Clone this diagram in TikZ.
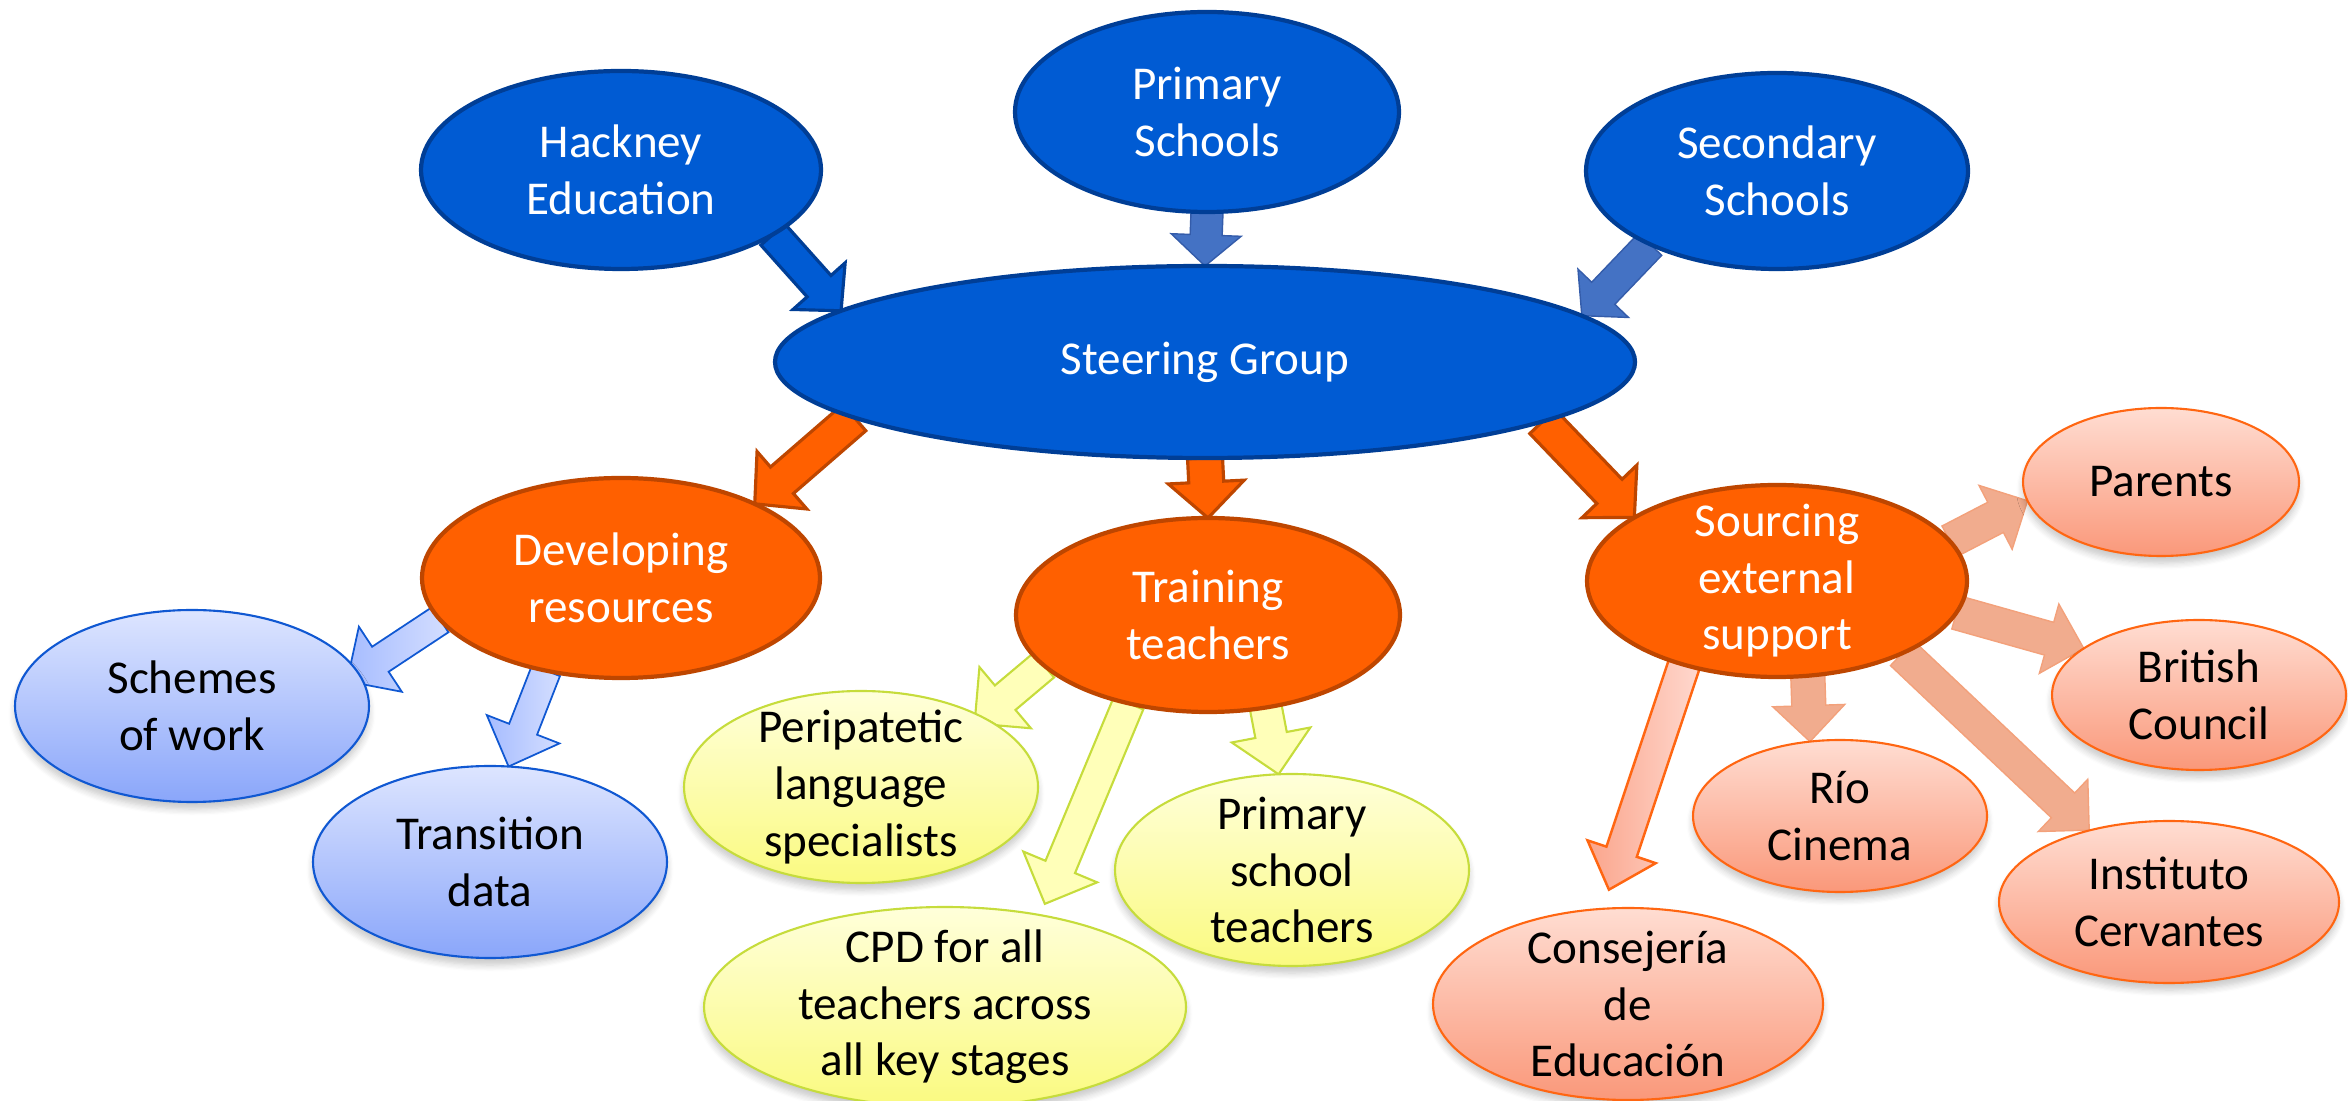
\documentclass[tikz,border=0pt]{standalone}
\usepackage{fontspec}
\setmainfont{Carlito}
\usetikzlibrary{
    shapes.geometric,
    shadows.blur
}
\definecolor{steerBlue}{RGB}{0, 91, 211}
\definecolor{steerBlueLine}{RGB}{0, 62, 150}
\definecolor{feedBlue}{RGB}{68, 114, 196}
\definecolor{feedBlueLine}{RGB}{52, 92, 170}
\definecolor{taskOrange}{RGB}{255, 96, 0}
\definecolor{taskOrangeLine}{RGB}{190, 70, 0}
\definecolor{resTop}{RGB}{221, 229, 255}
\definecolor{resBottom}{RGB}{138, 166, 250}
\definecolor{resLine}{RGB}{16, 88, 210}
\definecolor{resArrowA}{RGB}{166, 188, 255}
\definecolor{resArrowB}{RGB}{212, 222, 255}
\definecolor{teachTop}{RGB}{255, 255, 218}
\definecolor{teachBottom}{RGB}{250, 250, 128}
\definecolor{teachLine}{RGB}{198, 220, 60}
\definecolor{teachArrow}{RGB}{255, 255, 185}
\definecolor{helpTop}{RGB}{255, 221, 210}
\definecolor{helpBottom}{RGB}{250, 152, 122}
\definecolor{helpLine}{RGB}{255, 102, 18}
\definecolor{helpArrow}{RGB}{241, 172, 142}
\definecolor{helpArrowA}{RGB}{250, 165, 140}
\definecolor{helpArrowB}{RGB}{255, 216, 206}

\pgfdeclarelayer{background}
\pgfsetlayers{background,main}

\tikzset{
    % block arrow sizes
    fat shaft/.store in=\fashaft,
    fat head/.store in=\fahead,
    fat tip/.store in=\fatip,
    fat gap/.store in=\fagap,
    fat shaft=0.32cm, fat head=0.7cm, fat tip=0.33cm, fat gap=0pt,
    fat arrow/.style={fat gap=0pt},
    dims/.style 2 args={minimum width=#1, minimum height=#2},
    bubble/.style={ellipse, inner sep=-8pt, outer sep=0pt, align=center,
        font=\fontsize{13.4}{16.1}\selectfont},
    soft shadow/.style={blur shadow={shadow xshift=0pt, shadow yshift=-2pt,
        shadow blur steps=6, shadow opacity=22}},
    topbubble/.style={bubble, fill=steerBlue, draw=steerBlueLine, line width=1.2pt, text=white},
    taskbubble/.style={bubble, fill=taskOrange, draw=taskOrangeLine, line width=1.2pt, text=white},
    resbubble/.style={bubble, soft shadow, top color=resTop, bottom color=resBottom,
        draw=resLine, line width=0.6pt},
    teachbubble/.style={bubble, soft shadow, top color=teachTop, bottom color=teachBottom,
        draw=teachLine, line width=0.6pt},
    helpbubble/.style={bubble, soft shadow, top color=helpTop, bottom color=helpBottom,
        draw=helpLine, line width=0.6pt},
    toparrow/.style={fill=steerBlue, draw=steerBlueLine, line width=0.9pt,
        fat shaft=0.32cm, fat head=0.70cm, fat tip=0.33cm},
    feedarrow/.style={fill=feedBlue, draw=feedBlueLine, line width=0.4pt,
        fat shaft=0.32cm, fat head=0.70cm, fat tip=0.31cm},
    taskarrow/.style={fill=taskOrange, draw=taskOrangeLine, line width=0.9pt,
        fat shaft=0.35cm, fat head=0.76cm, fat tip=0.36cm},
    resarrow/.style={left color=resArrowA, right color=resArrowB, draw=resLine, line width=0.5pt,
        fat shaft=0.30cm, fat head=0.78cm, fat tip=0.40cm},
    teacharrow/.style={fill=teachArrow, draw=teachLine, line width=0.6pt,
        fat shaft=0.32cm, fat head=0.80cm, fat tip=0.40cm},
    helparrow/.style={fill=helpArrow, draw=helpArrow!85!helpLine, line width=0.4pt,
        fat shaft=0.34cm, fat head=0.72cm, fat tip=0.36cm},
    farhelparrow/.style={left color=helpArrowA, right color=helpArrowB, draw=helpLine,
        line width=0.7pt, fat shaft=0.32cm, fat head=0.72cm, fat tip=0.40cm}
}

% block arrow from one point to another, drawn under the bubbles
\newcommand{\fatarrow}[3][]{%
    \path (#2) coordinate (fa-from) (#3) coordinate (fa-to);
    \pgfpointdiff{\pgfpointanchor{fa-from}{center}}{\pgfpointanchor{fa-to}{center}}%
    \pgfgetlastxy{\fadx}{\fady}%
    \pgfmathsetmacro{\faangle}{atan2(\fady,\fadx)}%
    \pgfmathsetmacro{\falen}{veclen(\fadx,\fady)}%
    \begin{pgfonlayer}{background}
        \draw[fat arrow, #1, shift={(fa-from)}, rotate=\faangle]
            (0,{-0.5*\fashaft}) -- ({\falen pt-(\fagap)-\fatip},{-0.5*\fashaft})
            -- ({\falen pt-(\fagap)-\fatip},{-0.5*\fahead}) -- ({\falen pt-(\fagap)},0)
            -- ({\falen pt-(\fagap)-\fatip},{0.5*\fahead})
            -- ({\falen pt-(\fagap)-\fatip},{0.5*\fashaft}) -- (0,{0.5*\fashaft}) -- cycle;
    \end{pgfonlayer}%
}

\begin{document}
\begin{tikzpicture}
        \useasboundingbox (0,0) rectangle (23.48,11);

        % Top row
        \node[topbubble, dims={4.00cm}{1.98cm}] (hackney) at (6.21,9.30) {Hackney\\Education};
        \node[topbubble, dims={3.84cm}{2.00cm}] (primary) at (12.07,9.88) {Primary\\Schools};
        \node[topbubble, dims={3.82cm}{1.96cm}] (secondary) at (17.77,9.29) {Secondary\\Schools};
        \node[topbubble, dims={8.60cm}{1.92cm}] (steer) at (12.05,7.38) {Steering Group};

        % Work strands
        \node[taskbubble, dims={3.98cm}{2.00cm}] (develop) at (6.21,5.22) {Developing\\resources};
        \node[taskbubble, dims={3.84cm}{1.94cm}] (train) at (12.08,4.85) {Training\\teachers};
        \node[taskbubble, dims={3.80cm}{1.92cm}] (source) at (17.77,5.19) {Sourcing\\external\\support};

        % Resources
        \node[resbubble, dims={3.54cm}{1.92cm}] (schemes) at (1.92,3.94) {Schemes\\of work};
        \node[resbubble, dims={3.54cm}{1.92cm}] (transition) at (4.90,2.38) {Transition\\data};

        % Training
        \node[teachbubble, dims={3.54cm}{1.92cm}] (peri) at (8.61,3.13) {Peripatetic\\language\\specialists};
        \node[teachbubble, dims={4.82cm}{2.00cm}] (cpd) at (9.45,0.93) {CPD for all\\teachers across\\all key stages};
        \node[teachbubble, dims={3.54cm}{1.92cm}] (pst) at (12.92,2.30) {Primary\\school\\teachers};

        % External support
        \node[helpbubble, dims={2.76cm}{1.48cm}] (parents) at (21.61,6.18) {Parents};
        \node[helpbubble, dims={2.94cm}{1.50cm}] (british) at (21.99,4.05) {British\\Council};
        \node[helpbubble, dims={2.94cm}{1.52cm}] (rio) at (18.40,2.84) {Río\\Cinema};
        \node[helpbubble, dims={3.40cm}{1.62cm}] (instituto) at (21.69,1.98) {Instituto\\Cervantes};
        \node[helpbubble, dims={3.90cm}{1.92cm}] (consejeria) at (16.28,0.96) {Consejería\\de\\Educación};

        % Into the steering group
        \fatarrow[toparrow]{hackney.-23}{steer.172}
        \fatarrow[feedarrow]{primary.-90}{steer.90}
        \fatarrow[feedarrow]{secondary.210}{steer.7}

        % Out to the strands
        \fatarrow[taskarrow]{steer.189}{develop.29}
        \fatarrow[taskarrow]{steer.-90}{train.90}
        \fatarrow[taskarrow]{steer.-10}{source.156}

        \fatarrow[resarrow, fat gap=-0.14cm]{develop.193}{schemes.11}
        \fatarrow[resarrow]{develop.231}{transition.79}

        \fatarrow[teacharrow, fat gap=-0.1cm]{train.197}{peri.30}
        \fatarrow[teacharrow, fat gap=0.12cm]{train.228}{cpd.44}
        \fatarrow[teacharrow]{train.-58}{pst.98}

        \fatarrow[helparrow]{source.13}{parents.188}
        \fatarrow[helparrow]{source.-10}{british.158}
        \fatarrow[helparrow]{source.-72}{rio.112}
        \fatarrow[helparrow]{source.-30}{instituto.138}
        \fatarrow[farhelparrow, fat gap=0.2cm]{source.222}{consejeria.105}
    \end{tikzpicture}
\end{document}
